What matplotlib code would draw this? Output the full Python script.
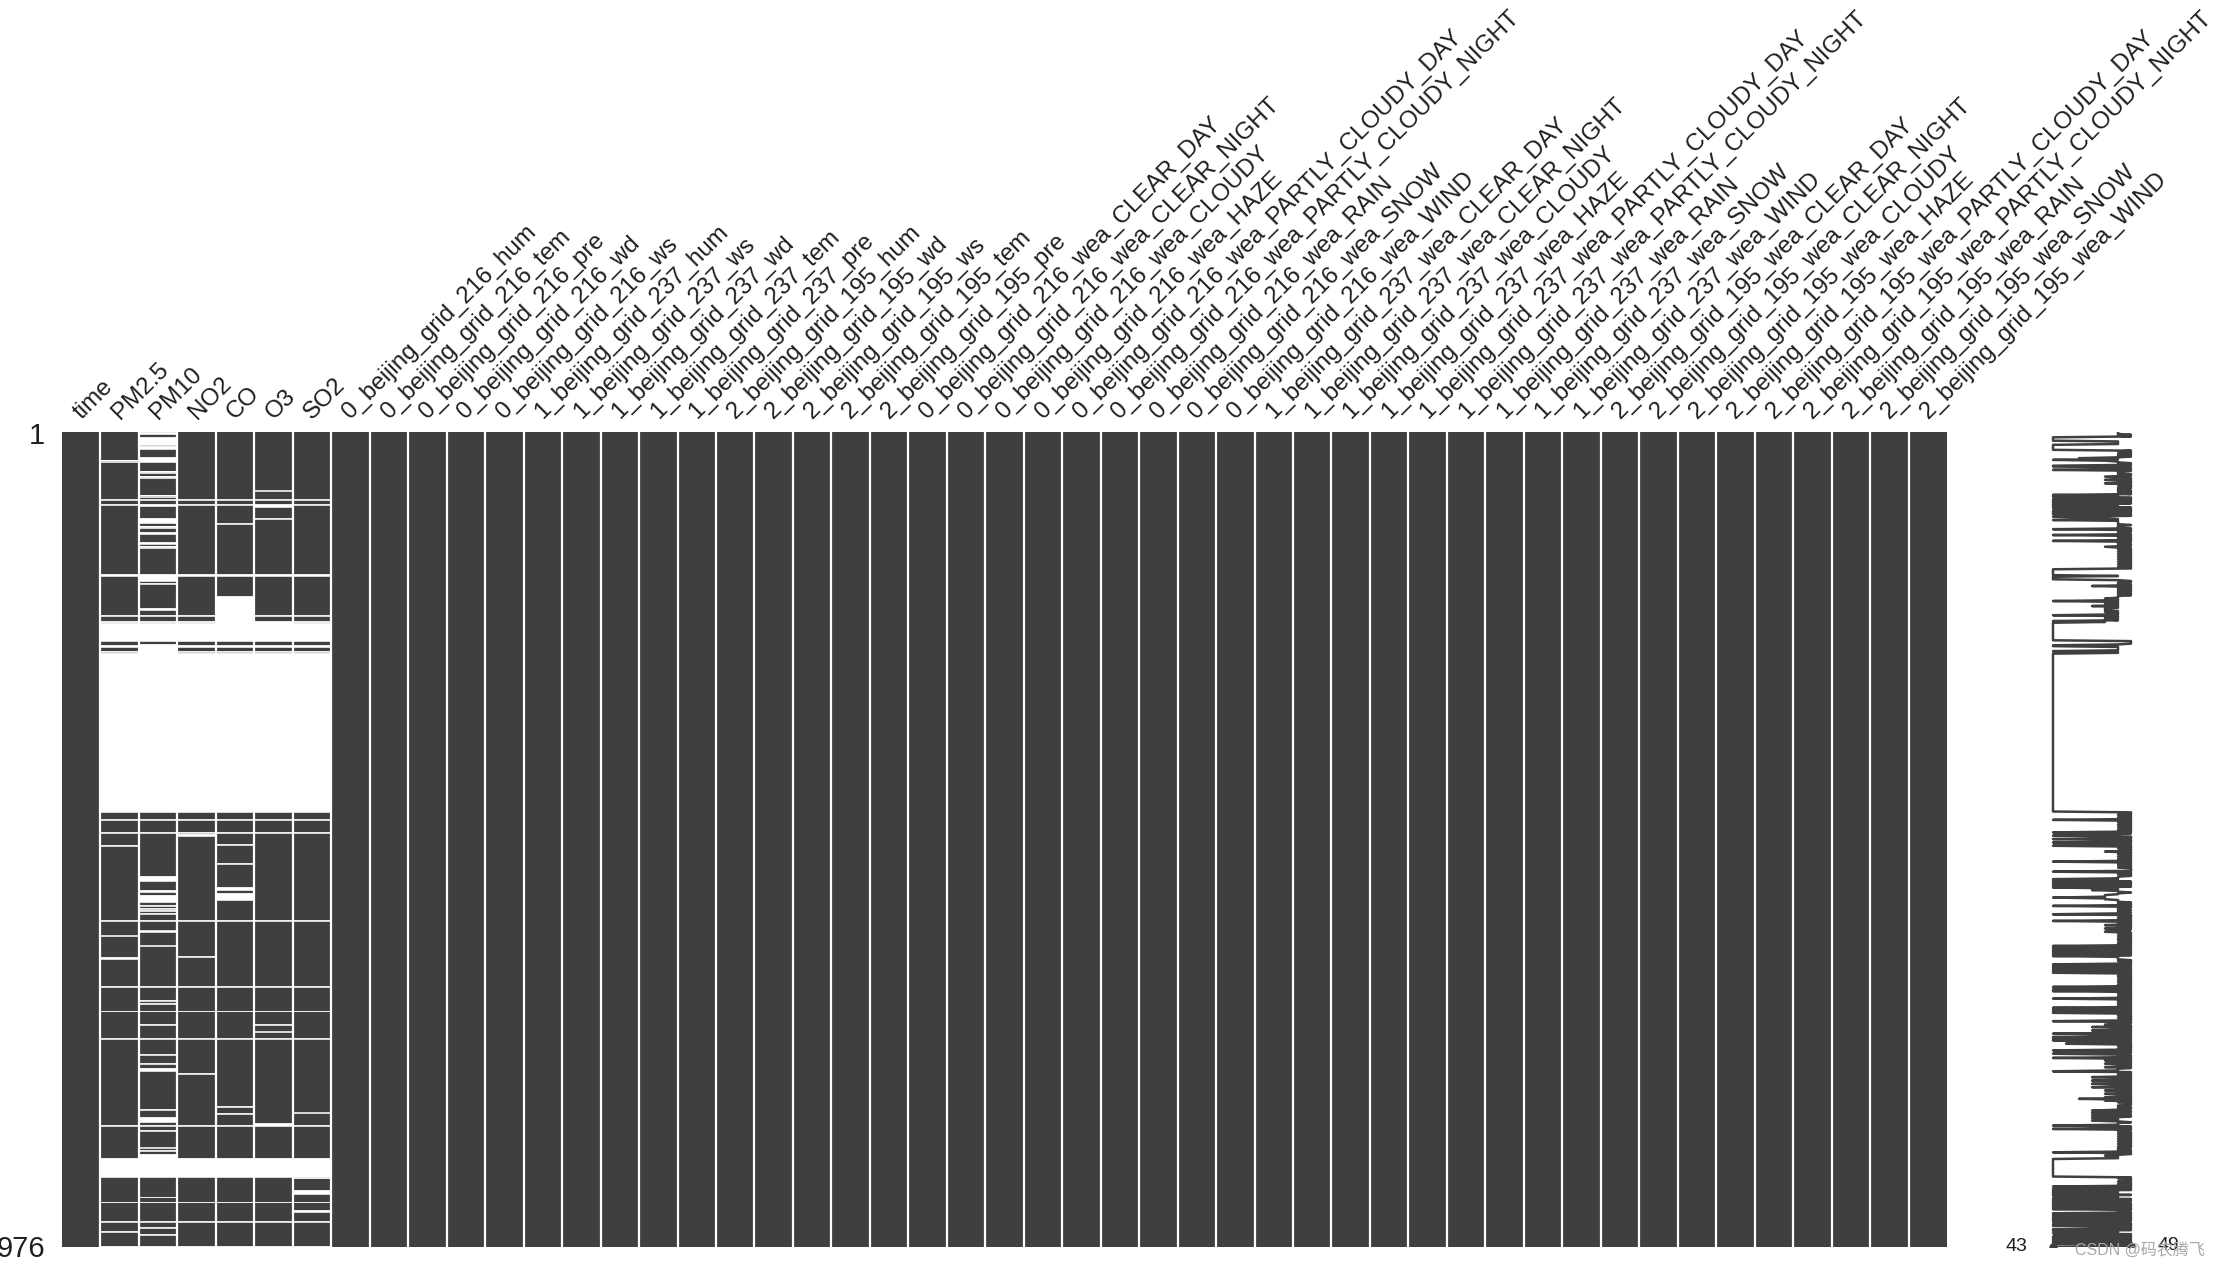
import numpy as np
import matplotlib
matplotlib.use("Agg")
import matplotlib.pyplot as plt

plt.rcParams["font.family"] = ["Liberation Sans", "DejaVu Sans"]

n_rows = 976

grid_216_met = ["hum", "tem", "pre", "wd", "ws"]
grid_237_met = ["hum", "ws", "wd", "tem", "pre"]
grid_195_met = ["hum", "wd", "ws", "tem", "pre"]
weather = ["CLEAR_DAY", "CLEAR_NIGHT", "CLOUDY", "HAZE", "PARTLY_CLOUDY_DAY",
           "PARTLY_CLOUDY_NIGHT", "RAIN", "SNOW", "WIND"]

columns = (["time", "PM2.5", "PM10", "NO2", "CO", "O3", "SO2"]
           + ["0_beijing_grid_216_" + s for s in grid_216_met]
           + ["1_beijing_grid_237_" + s for s in grid_237_met]
           + ["2_beijing_grid_195_" + s for s in grid_195_met]
           + ["0_beijing_grid_216_wea_" + s for s in weather]
           + ["1_beijing_grid_237_wea_" + s for s in weather]
           + ["2_beijing_grid_195_wea_" + s for s in weather])

# missing row ranges (0-based, inclusive)
pm25_missing = [[34, 34], [80, 80], [86, 86], [170, 171], [219, 219], [226, 226],
                [228, 249], [255, 256], [262, 262], [265, 454], [464, 464], [479, 479],
                [495, 495], [585, 585], [603, 603], [629, 630], [664, 664], [693, 693],
                [726, 726], [830, 830], [870, 891], [922, 922], [945, 945], [957, 957],
                [975, 975]]
pm10_missing = [[0, 1], [6, 14], [17, 19], [30, 35], [47, 48], [53, 54], [76, 76],
                [80, 80], [86, 87], [103, 108], [113, 114], [120, 121], [132, 133],
                [137, 138], [170, 177], [181, 181], [211, 212], [219, 219], [226, 226],
                [228, 249], [254, 454], [464, 464], [479, 479], [532, 537], [549, 550],
                [554, 562], [567, 567], [570, 570], [573, 573], [576, 576], [585, 585],
                [597, 598], [615, 615], [664, 664], [680, 680], [684, 684], [693, 693],
                [709, 709], [726, 726], [745, 745], [756, 756], [762, 764], [811, 811],
                [820, 825], [830, 830], [836, 836], [857, 857], [860, 860], [865, 891],
                [916, 916], [922, 922], [945, 945], [952, 952], [961, 961], [975, 975]]
no2_missing = [[80, 80], [86, 86], [170, 171], [219, 219], [226, 226], [228, 249],
               [255, 256], [262, 262], [265, 454], [464, 464], [479, 479], [481, 483],
               [585, 585], [628, 628], [664, 664], [693, 693], [726, 726], [768, 768],
               [830, 830], [870, 891], [922, 922], [945, 945], [975, 975]]
co_missing = [[80, 80], [86, 86], [109, 109], [170, 171], [196, 249], [255, 256],
              [262, 262], [265, 454], [464, 464], [479, 479], [493, 493], [516, 516],
              [545, 547], [552, 559], [585, 585], [664, 664], [693, 693], [726, 726],
              [807, 807], [816, 816], [830, 830], [870, 891], [922, 922], [945, 945],
              [975, 975]]
o3_missing = [[69, 69], [80, 80], [86, 88], [103, 103], [170, 171], [219, 219],
              [226, 249], [255, 256], [262, 262], [265, 454], [464, 464], [479, 479],
              [585, 585], [664, 664], [693, 693], [709, 709], [718, 718], [726, 726],
              [828, 830], [870, 891], [922, 922], [945, 945], [975, 975]]
so2_missing = [[80, 80], [86, 86], [170, 171], [219, 219], [226, 226], [228, 249],
               [255, 256], [262, 262], [265, 454], [464, 464], [479, 479], [585, 585],
               [664, 664], [693, 693], [726, 726], [815, 815], [830, 830], [870, 891],
               [893, 893], [908, 912], [922, 922], [932, 933], [945, 945], [975, 975]]

# extra low-completeness rows that only the sparkline shows (the matrix
# rendering hides them), read off the sparkline: row indices per value
spark_dips_43 = [6, 7, 8, 9, 10, 15, 16, 17, 18, 19, 20, 21, 33, 40, 41, 45,
                 75, 77, 80, 82, 84, 87, 89, 91, 94, 96, 98, 101, 105, 116, 123, 130,
                 164, 165, 166, 167, 168, 169, 173, 174, 175, 176, 202,
                 483, 487, 491, 495, 514, 526, 535, 537, 539, 541, 543, 545, 557, 567,
                 577, 615, 617, 619, 621, 623, 625, 627, 637, 639, 641, 643, 645, 647,
                 667, 669, 678, 689, 691, 695, 705, 720, 724, 728, 740, 744, 749, 765,
                 834, 862, 903, 906, 908, 910, 912, 914, 917, 919, 921, 924, 926, 928,
                 930, 935, 937, 939, 941, 943, 948, 950, 954, 956, 959, 963, 965, 967,
                 969, 971]
spark_dips_44 = [732]
spark_dips_45 = [31, 102, 798]
spark_dips_46 = [184, 208, 548, 712, 716, 772, 776, 780, 784, 812, 815, 818, 821, 824]
spark_dips_47 = [53, 57, 61, 137, 199, 205, 211, 213, 215, 222, 224, 502, 590, 594,
                 598, 752, 756, 760, 788, 792, 796, 800, 866]
spark_dips_48 = [2, 4, 23, 26, 28, 36, 38, 43, 49, 51, 63, 66, 68, 71, 73, 104, 110,
                 112, 118, 125, 127, 135, 140, 143, 146, 149, 152, 155, 158, 161, 180,
                 186, 188, 190, 192, 194, 458, 461, 467, 470, 473, 476, 498, 505, 508,
                 511, 518, 521, 529, 552, 561, 564, 571, 574, 581, 583, 588, 592, 596,
                 600, 603, 606, 608, 611, 613, 631, 633, 650, 652, 655, 658, 661, 672,
                 675, 682, 686, 698, 701, 708, 714, 718, 722, 730, 735, 738, 742, 747,
                 754, 758, 762, 768, 770, 774, 778, 782, 786, 790, 794, 802, 806, 809,
                 827, 832, 837, 840, 843, 846, 849, 852, 855, 858, 868, 893, 897, 900,
                 915, 933, 946, 952, 958, 961, 973]

missing_by_col = {"PM2.5": pm25_missing, "PM10": pm10_missing, "NO2": no2_missing,
                  "CO": co_missing, "O3": o3_missing, "SO2": so2_missing}
spark_dips = {43: spark_dips_43, 44: spark_dips_44, 45: spark_dips_45,
              46: spark_dips_46, 47: spark_dips_47, 48: spark_dips_48}

present = np.ones((n_rows, len(columns)), dtype=bool)
for name, ranges in missing_by_col.items():
    j = columns.index(name)
    for a, b in ranges:
        present[a:b + 1, j] = False

color = (0.25, 0.25, 0.25)
g = np.ones((n_rows, len(columns), 3))
g[present] = color

fig = plt.figure(figsize=(22.26, 12.67), dpi=100)
ax0 = fig.add_axes([62 / 2226, 20.3 / 1267, 1885 / 2226, 814.4 / 1267])
ax1 = fig.add_axes([2027 / 2226, 20.3 / 1267, 130 / 2226, 814.4 / 1267])

ax0.imshow(g, interpolation="nearest", aspect="auto")
# make every missing stretch visible even when thinner than a pixel
for name, ranges in missing_by_col.items():
    j = columns.index(name)
    for a, b in ranges:
        ax0.bar(j, b - a + 1, bottom=a - 0.5, width=1, color="white",
                edgecolor="#e6e6e6", linewidth=0.55)
ax0.set_xlim(-0.5, len(columns) - 0.5)
ax0.set_ylim(n_rows - 0.5, -0.5)
ax0.grid(False)
for s in ax0.spines.values():
    s.set_visible(False)
ax0.xaxis.tick_top()
ax0.set_xticks(range(len(columns)))
ax0.set_xticklabels(columns, rotation=45, ha="left", va="baseline",
                    rotation_mode="anchor", fontsize=17.4, color="#1e1e1e")
ax0.set_yticks([0, n_rows - 1])
ax0.set_yticklabels([1, n_rows], fontsize=21, color="#1e1e1e")
ax0.tick_params(axis="x", length=0, pad=9)
ax0.tick_params(axis="y", length=0, pad=12)
for xv in np.arange(len(columns) - 1) + 0.5:
    ax0.axvline(xv, color="white", lw=1.6)

# sparkline of row completeness
completeness = present.sum(axis=1)
for val, rows in spark_dips.items():
    completeness[rows] = np.minimum(completeness[rows], val)
y_range = list(completeness[::-1])
x_domain = list(range(n_rows))
cmin, cmax = min(y_range), max(y_range)
imin, imax = y_range.index(cmin), y_range.index(cmax)

ax1.plot(y_range, x_domain, color=color, lw=1.8)
ax1.plot([cmin], [imin], ".", color=color, markersize=10)
ax1.plot([cmax], [imax], ".", color=color, markersize=10)
ax1.annotate(str(cmax), xy=(cmax, imax), xytext=(cmax + 2, imax),
             fontsize=14, va="center", ha="left", color="#1e1e1e")
ax1.annotate(str(cmin), xy=(cmin, imin), xytext=(cmin - 2, imin),
             fontsize=14, va="center", ha="right", color="#1e1e1e")
ax1.set_xlim(cmin - 2, cmax + 2)
ax1.set_ylim(0, n_rows - 1)
ax1.set_xticks([])
ax1.set_yticks([])
for s in ax1.spines.values():
    s.set_visible(False)

fig.text(2075 / 2226, 1 - 1250 / 1267, "CSDN @码农腾飞", fontsize=11.5,
         color="#a8a8a8", va="center", ha="left",
         family=["Liberation Sans", "Noto Sans CJK SC"])

fig.savefig("out.png", dpi=100)
